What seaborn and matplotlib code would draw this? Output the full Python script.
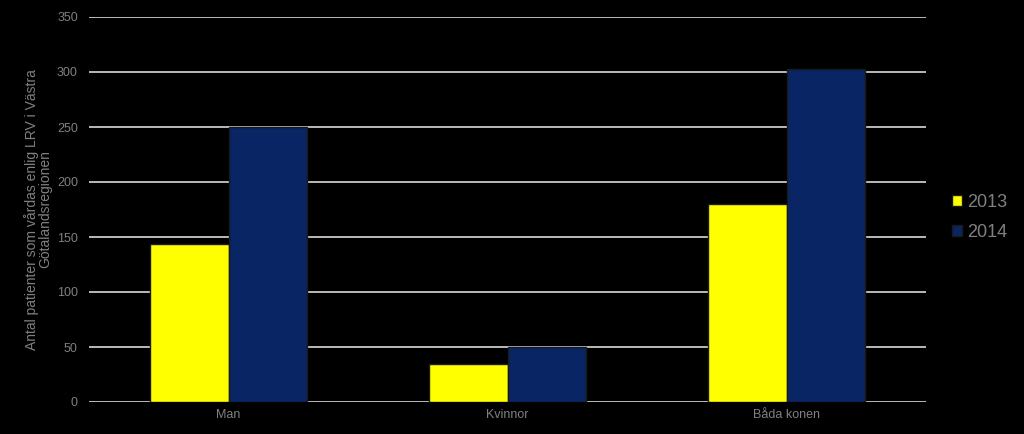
import matplotlib
matplotlib.use("Agg")
import matplotlib.pyplot as plt
import seaborn as sns
import pandas as pd

categories = ["Man", "Kvinnor", "Båda konen"]
years = ["2013", "2014"]
values_2013 = [144, 35, 180]
values_2014 = [250, 50, 303]
yticks = [0, 50, 100, 150, 200, 250, 300, 350]

df = pd.DataFrame({
    "kategori": categories * 2,
    "år": [years[0]] * 3 + [years[1]] * 3,
    "antal": values_2013 + values_2014,
})

sns.set_theme(style="dark")
plt.rcParams['font.family'] = ['Liberation Sans', 'DejaVu Sans']

fig = plt.figure(figsize=(10.24, 4.34), dpi=100, facecolor="black")
ax = fig.add_axes([89/1024, 32/434, 837/1024, 385/434])
ax.set_facecolor("black")

palette = {"2013": "#FFFF00", "2014": "#0A2563"}
sns.barplot(data=df, x="kategori", y="antal", hue="år", palette=palette,
            width=0.56, ax=ax, saturation=1, edgecolor="#1a1a1a", linewidth=1.0,
            zorder=3)

ax.set_ylim(0, 350)
ax.set_yticks(yticks)
ax.set_xlim(-0.5, 2.5)
ax.grid(axis="y", color="#d9d9d9", linewidth=1.2, zorder=0)
ax.grid(axis="x", visible=False)
for s in ax.spines.values():
    s.set_visible(False)
ax.tick_params(axis="both", colors="#808080", labelsize=9, length=0)
ax.tick_params(axis="y", pad=8)
ax.tick_params(axis="x", pad=5)
for t in ax.get_yticklabels() + ax.get_xticklabels():
    t.set_color("#808080")
ax.set_xlabel("")
ax.set_ylabel("Antal patienter som vårdas enlig LRV i Västra\nGötalandsregionen",
              color="#808080", fontsize=10, linespacing=1.0, labelpad=3)

leg = ax.legend(loc="center left", bbox_to_anchor=(1.012, 0.48), frameon=False,
                fontsize=13, handlelength=0.55, handleheight=0.55, handletextpad=0.25,
                labelspacing=0.7)
for t in leg.get_texts():
    t.set_color("#808080")

fig.savefig("out.png", dpi=100, facecolor="black")
